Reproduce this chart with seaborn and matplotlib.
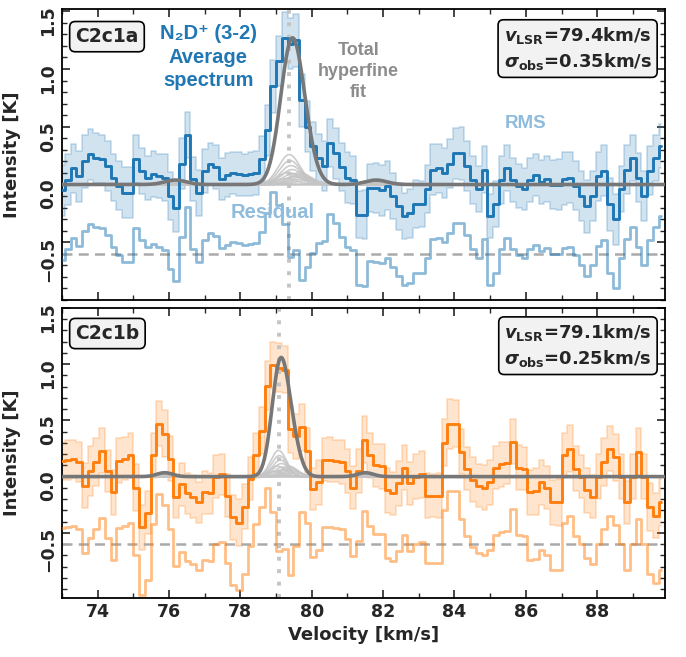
import numpy as np
import pandas as pd
import matplotlib
matplotlib.use("Agg")
import matplotlib.pyplot as plt
from matplotlib.ticker import MultipleLocator
from matplotlib.transforms import ScaledTranslation
import seaborn as sns

sns.set_style("ticks")
plt.rcParams.update({
    "font.family": ["DejaVu Sans"],
    "font.weight": "bold",
    "axes.labelweight": "bold",
    "mathtext.fontset": "custom",
    "mathtext.rm": "DejaVu Sans:bold",
    "mathtext.it": "DejaVu Sans:italic:bold",
    "mathtext.bf": "DejaVu Sans:bold",
    "xtick.direction": "in", "ytick.direction": "in",
    "xtick.top": True, "ytick.right": True,
    "axes.linewidth": 1.3,
    "axes.edgecolor": "black",
})

# ---------------- data ----------------
chan_start = 73.0      # km/s, first channel centre
chan_width = 0.16      # km/s
n_chan = 106

spec_a = [-0.05, 0.04, 0.14, 0.07, 0.20, 0.26, 0.23, 0.22, 0.16, 0.06,
          -0.01, -0.07, -0.07, 0.22, 0.12, 0.06, 0.09, 0.07, 0.06, -0.10,
          -0.20, 0.18, 0.43, 0.05, -0.07, 0.12, 0.18, 0.15, 0.05, 0.08,
          0.10, 0.09, 0.08, 0.09, 0.10, 0.22, 0.47, 0.85, 1.07, 1.27,
          1.22, 1.25, 0.73, 0.50, 0.33, 0.23, 0.16, 0.36, 0.27, 0.15,
          0.06, 0.04, -0.26, -0.26, -0.03, -0.03, -0.05, -0.01, -0.10, -0.19,
          -0.27, -0.25, -0.17, -0.17, -0.04, 0.13, 0.14, 0.10, 0.18, 0.27,
          0.27, 0.16, 0.04, -0.04, 0.13, -0.27, -0.17, 0.04, 0.14, 0.04,
          -0.01, -0.04, 0.04, 0.08, 0.02, 0.05, 0.00, 0.00, 0.05, 0.06,
          -0.01, -0.10, -0.19, -0.10, 0.07, 0.12, -0.17, -0.30, -0.04, 0.13,
          0.23, 0.06, -0.10, 0.12, 0.23, 0.33]

rms_a = [0.22, 0.22, 0.21, 0.22, 0.23, 0.22, 0.22, 0.21, 0.22, 0.20,
         0.21, 0.22, 0.22, 0.21, 0.20, 0.19, 0.20, 0.19, 0.20, 0.21,
         0.21, 0.22, 0.20, 0.19, 0.20, 0.19, 0.18, 0.19, 0.18, 0.19,
         0.18, 0.19, 0.18, 0.19, 0.19, 0.20, 0.22, 0.23, 0.22, 0.22,
         0.22, 0.23, 0.23, 0.22, 0.21, 0.21, 0.22, 0.21, 0.22, 0.21,
         0.22, 0.21, 0.20, 0.21, 0.21, 0.22, 0.22, 0.21, 0.20, 0.20,
         0.20, 0.21, 0.21, 0.20, 0.21, 0.22, 0.21, 0.22, 0.21, 0.22,
         0.23, 0.22, 0.21, 0.20, 0.20, 0.19, 0.20, 0.21, 0.20, 0.19,
         0.19, 0.18, 0.19, 0.18, 0.19, 0.20, 0.21, 0.22, 0.23, 0.22,
         0.21, 0.22, 0.23, 0.22, 0.21, 0.22, 0.23, 0.22, 0.20, 0.21,
         0.20, 0.21, 0.22, 0.21, 0.20, 0.19]

spec_b = [0.14, 0.15, 0.16, 0.13, -0.08, 0.05, 0.13, 0.23, 0.05, -0.14,
          0.14, 0.16, 0.19, -0.10, -0.45, -0.32, 0.19, 0.47, 0.38, 0.16,
          -0.18, -0.07, -0.15, -0.18, -0.23, -0.14, -0.15, 0.00, 0.02, -0.17,
          -0.36, -0.41, -0.27, -0.02, 0.19, 0.41, 0.81, 0.99, 0.97, 0.95,
          0.42, 0.36, 0.44, 0.23, -0.11, -0.05, 0.15, 0.15, 0.14, 0.13,
          0.05, -0.10, 0.05, 0.33, 0.19, 0.10, 0.09, -0.12, -0.15, -0.06,
          0.08, -0.06, 0.00, 0.02, -0.17, -0.17, -0.17, 0.30, 0.47, 0.47,
          0.22, 0.07, -0.03, -0.08, -0.10, -0.05, 0.08, 0.11, 0.12, 0.31,
          0.08, 0.07, -0.14, -0.13, -0.05, -0.10, -0.23, -0.23, 0.19, 0.25,
          0.07, 0.00, -0.12, -0.18, 0.00, 0.13, 0.25, 0.17, 0.00, -0.23,
          0.00, 0.22, 0.00, -0.27, -0.35, -0.23]

rms_b = [0.17, 0.18, 0.17, 0.18, 0.20, 0.22, 0.21, 0.20, 0.19, 0.20,
         0.20, 0.19, 0.20, 0.21, 0.20, 0.19, 0.20, 0.20, 0.21, 0.20,
         0.19, 0.19, 0.18, 0.19, 0.18, 0.19, 0.18, 0.19, 0.18, 0.19,
         0.20, 0.21, 0.20, 0.19, 0.20, 0.21, 0.22, 0.21, 0.22, 0.21,
         0.21, 0.20, 0.21, 0.20, 0.19, 0.20, 0.19, 0.20, 0.19, 0.20,
         0.20, 0.19, 0.20, 0.21, 0.20, 0.19, 0.20, 0.20, 0.19, 0.20,
         0.20, 0.19, 0.20, 0.21, 0.20, 0.19, 0.20, 0.21, 0.22, 0.21,
         0.20, 0.19, 0.20, 0.19, 0.20, 0.20, 0.19, 0.20, 0.19, 0.20,
         0.20, 0.19, 0.20, 0.21, 0.20, 0.19, 0.20, 0.21, 0.20, 0.21,
         0.20, 0.19, 0.20, 0.19, 0.20, 0.21, 0.20, 0.21, 0.20, 0.19,
         0.20, 0.21, 0.20, 0.21, 0.20, 0.21]

# hyperfine components: offset from v_LSR [km/s] and relative strength
hf_offset = [-3.22, -3.15, -0.10, -0.04, 0.00, 0.02, 0.05, 0.08, 0.11, 0.15,
             0.30, 0.34, 0.38, 0.42, 0.47, 2.40, 2.46]
hf_strength = [0.025, 0.020, 0.06, 0.12, 0.30, 0.24, 0.19, 0.15, 0.11, 0.08,
               0.12, 0.10, 0.08, 0.06, 0.04, 0.020, 0.025]

panels = ["C2c1a", "C2c1b"]
v_lsr = [79.37, 79.07]
v_lsr_txt = ["79.4", "79.1"]
sigma_txt = ["0.35", "0.25"]
sigma_comp = [0.30, 0.22]
peak_total = [1.27, 1.06]
residual_offset = -0.6

# -------------- figure --------------
velocity = chan_start + chan_width * np.arange(n_chan)
vfine = np.linspace(72.5, 90.5, 1500)

fig = plt.figure(figsize=(6.86, 6.57), dpi=100)
ax_top = fig.add_axes([0.0904, 0.5434, 0.879, 0.4429])
ax_bot = fig.add_axes([0.0904, 0.0898, 0.879, 0.4414])

blue = "#1f77b4"
orange = "#ff7f0e"
light_blue_txt = "#8fbbdc"


def model(x, vl, sig, peak):
    comps = np.array([s * np.exp(-(x - vl - o) ** 2 / (2 * sig ** 2))
                      for o, s in zip(hf_offset, hf_strength)])
    ref = np.array([s * np.exp(-(vfine - vl - o) ** 2 / (2 * sig ** 2))
                    for o, s in zip(hf_offset, hf_strength)]).sum(0).max()
    return comps * peak / ref


def draw(ax, spec, rms, color, i, ylim):
    spec = np.asarray(spec)
    rms = np.asarray(rms)
    vl, sig, pk = v_lsr[i], sigma_comp[i], peak_total[i]
    comps_f = model(vfine, vl, sig, pk)
    total_f = comps_f.sum(0)
    total_c = model(velocity, vl, sig, pk).sum(0)
    resid = spec - total_c + residual_offset

    ax.fill_between(velocity, spec - rms, spec + rms, step="mid",
                    color=color, alpha=0.2, lw=0, zorder=1)
    for edge in (spec - rms, spec + rms):
        sns.lineplot(x=velocity, y=edge, ax=ax, drawstyle="steps-mid",
                     color=color, alpha=0.22, lw=1.3, zorder=1)
    ax.axhline(residual_offset, color="#aaaaaa", ls=(0, (4, 2.5)), lw=1.8, zorder=2)
    sns.lineplot(x=velocity, y=resid, ax=ax, drawstyle="steps-mid",
                 color=color, alpha=0.5, lw=2.0, zorder=3)
    ax.axvline(vl, color="#c4c4c4", ls=(0, (1, 2.2)), lw=2.8, zorder=2)
    for c in comps_f:
        sns.lineplot(x=vfine, y=c, ax=ax, color="#c4c4c4", lw=1.2,
                     alpha=0.85, zorder=4)
    sns.lineplot(x=velocity, y=spec, ax=ax, drawstyle="steps-mid",
                 color=color, lw=2.1, zorder=5)
    sns.lineplot(x=vfine, y=total_f, ax=ax, color="#777777", lw=2.6, zorder=6)

    ax.set_xlim(73.0, 89.9)
    ax.set_ylim(*ylim)
    ax.xaxis.set_major_locator(MultipleLocator(2))
    ax.xaxis.set_minor_locator(MultipleLocator(1))
    ax.set_yticks([-0.5, 0.0, 0.5, 1.0, 1.5])
    ax.yaxis.set_minor_locator(MultipleLocator(0.1))
    ax.tick_params(which="major", length=6, width=1.2, labelsize=12.5,
                   top=True, right=True)
    ax.tick_params(which="minor", length=3.5, width=1.0, top=True, right=True)
    ax.tick_params(axis="y", labelrotation=90)
    shift = ScaledTranslation(0, 0.06, fig.dpi_scale_trans)
    for lab in ax.get_yticklabels():
        lab.set_va("top")
        lab.set_ha("right")
        lab.set_fontweight("bold")
        lab.set_transform(lab.get_transform() + shift)
    for lab in ax.get_xticklabels():
        lab.set_fontweight("bold")
    ax.set_ylabel("Intensity [K]", fontsize=13, fontweight="bold")
    ax.yaxis.set_label_coords(-0.068, 0.5)

    box = dict(boxstyle="round,pad=0.3", fc="#f2f2f2", ec="black", lw=1.2)
    ax.text(0.022, 0.905 if i == 0 else 0.912, panels[i], transform=ax.transAxes,
            ha="left", va="center", fontsize=13.5, fontweight="bold", bbox=box,
            zorder=10)
    ax.text(0.978, 0.864 if i == 0 else 0.870,
            r"$v_{\rm LSR}$=" + v_lsr_txt[i] + "km/s\n"
            + r"$\sigma_{\rm obs}$=" + sigma_txt[i] + "km/s",
            transform=ax.transAxes, ha="right", va="center", multialignment="right",
            fontsize=13, fontweight="bold", bbox=box, zorder=10, linespacing=1.3)


draw(ax_top, spec_a, rms_a, blue, 0, (-1.0, 1.52))
draw(ax_bot, spec_b, rms_b, orange, 1, (-1.08, 1.50))

ax_top.tick_params(labelbottom=False)
ax_top.set_xlabel("")
ax_bot.set_xlabel("Velocity [km/s]", fontsize=13, fontweight="bold")

sans = ["Liberation Sans", "DejaVu Sans"]
ax_top.text(77.1, 1.39, "N\u2082D\u207a (3-2)\nAverage\nspectrum", color=blue,
            ha="center", va="top", fontsize=14.5, fontweight="bold",
            family=sans, linespacing=1.3, zorder=9)
ax_top.text(81.3, 1.23, "Total\nhyperfine\nfit", color="#8c8c8c",
            ha="center", va="top", fontsize=13, fontweight="bold",
            family=sans, linespacing=1.3, zorder=9)
ax_top.text(86.0, 0.53, "RMS", color=light_blue_txt, ha="center", va="center",
            fontsize=13.5, fontweight="bold", family=sans, zorder=9)
ax_top.text(78.9, -0.24, "Residual", color=light_blue_txt, ha="center",
            va="center", fontsize=14.5, fontweight="bold", family=sans, zorder=9)

fig.savefig("out.png", dpi=100)
